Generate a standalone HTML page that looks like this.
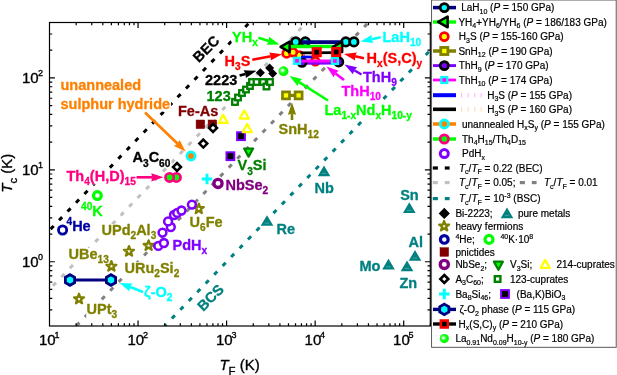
<!DOCTYPE html>
<html lang="en"><head><meta charset="utf-8"><title>Tc vs TF</title>
<style>html,body{margin:0;padding:0;background:#fff}svg{display:block}</style></head>
<body>
<svg width="617" height="375" viewBox="0 0 617 375" font-family="'Liberation Sans', Arial, sans-serif">
<defs><radialGradient id="gball" cx="0.40" cy="0.42" r="0.62"><stop offset="0" stop-color="#ffffff"/><stop offset="0.12" stop-color="#d8ffd8"/><stop offset="0.45" stop-color="#20ff20"/><stop offset="0.7" stop-color="#00ff00"/><stop offset="1" stop-color="#00f400"/></radialGradient>
<clipPath id="clip"><rect x="49.5" y="22.5" width="380.8" height="303.5"/></clipPath></defs>
<rect width="617" height="375" fill="#fff"/>
<g style="will-change:transform">
<g clip-path="url(#clip)">
<line x1="49.5" y1="230.25" x2="249.59" y2="22.5" stroke="#000000" stroke-width="3" stroke-dasharray="4.4 7.8" stroke-dashoffset="10.6"/>
<line x1="49.5" y1="289.41" x2="306.57" y2="22.5" stroke="#c0c0c0" stroke-width="3" stroke-dasharray="4.4 7.8" stroke-dashoffset="7.2"/>
<line x1="76.16" y1="325.99" x2="368.46" y2="22.5" stroke="#808080" stroke-width="3" stroke-dasharray="4.4 7.8" stroke-dashoffset="11.9"/>
<line x1="164.71" y1="325.99" x2="430.36" y2="50.17" stroke="#008080" stroke-width="3" stroke-dasharray="4.4 7.8" stroke-dashoffset="1.9"/>
</g>
<g clip-path="url(#clip)"><rect x="60.2" y="79.42" width="81.86" height="13.95" fill="#fff"/><rect x="60.2" y="97.62" width="110.86" height="13.95" fill="#fff"/><rect x="193.99" y="41.52" width="31.92" height="13.95" fill="#fff" transform="rotate(-45 209.6 52.4)"/><rect x="198.39" y="290.32" width="31.92" height="13.95" fill="#fff" transform="rotate(-45 214 301.2)"/><rect x="231.7" y="30.92" width="27.09" height="14.5" fill="#fff"/><rect x="224.2" y="54.92" width="27.09" height="14.5" fill="#fff"/><rect x="204.7" y="73.92" width="33.55" height="13.95" fill="#fff"/><rect x="206.2" y="89.92" width="25.49" height="13.95" fill="#fff"/><rect x="177.7" y="104.92" width="41.58" height="13.95" fill="#fff"/><rect x="132.2" y="151.43" width="39.18" height="14.5" fill="#fff"/><rect x="66.2" y="169.93" width="70.57" height="14.5" fill="#fff"/><rect x="80.7" y="204.2" width="23.06" height="14.67" fill="#fff"/><rect x="66.2" y="219.2" width="25.48" height="14.67" fill="#fff"/><rect x="101.2" y="223.93" width="56.09" height="14.5" fill="#fff"/><rect x="68.2" y="247.93" width="41.6" height="14.5" fill="#fff"/><rect x="124.2" y="261.93" width="56.09" height="14.5" fill="#fff"/><rect x="86.2" y="302.93" width="31.92" height="14.5" fill="#fff"/><rect x="143.7" y="285.93" width="29.73" height="14.5" fill="#fff"/><rect x="189.2" y="215.93" width="34.34" height="14.5" fill="#fff"/><rect x="172.2" y="238.93" width="35.94" height="14.5" fill="#fff"/><rect x="225.2" y="178.93" width="44.01" height="14.5" fill="#fff"/><rect x="237.2" y="159.43" width="30.32" height="14.5" fill="#fff"/><rect x="278.2" y="122.93" width="41.59" height="14.5" fill="#fff"/><rect x="324.2" y="103.92" width="88.64" height="14.5" fill="#fff"/><rect x="341.2" y="84.92" width="40.77" height="14.5" fill="#fff"/><rect x="362.7" y="70.92" width="35.13" height="14.5" fill="#fff"/><rect x="366.2" y="51.92" width="56.89" height="14.5" fill="#fff"/><rect x="382.2" y="30.92" width="39.98" height="14.5" fill="#fff"/><rect x="314.2" y="182.33" width="20.63" height="13.95" fill="#fff"/><rect x="276.2" y="222.93" width="19.84" height="13.95" fill="#fff"/><rect x="399.9" y="189.33" width="19.83" height="13.95" fill="#fff"/><rect x="408.2" y="235.93" width="15.8" height="13.95" fill="#fff"/><rect x="359.2" y="260.23" width="22.23" height="13.95" fill="#fff"/><rect x="399.2" y="276.93" width="19.01" height="13.95" fill="#fff"/></g>
<rect x="49.5" y="22.5" width="380.8" height="303.5" fill="none" stroke="#000" stroke-width="1.2"/>
<path d="M76.16 326.0v-2.8M76.16 22.5v2.8M91.75 326.0v-2.8M91.75 22.5v2.8M102.81 326.0v-2.8M102.81 22.5v2.8M111.39 326.0v-2.8M111.39 22.5v2.8M118.41 326.0v-2.8M118.41 22.5v2.8M124.33 326.0v-2.8M124.33 22.5v2.8M129.47 326.0v-2.8M129.47 22.5v2.8M134 326.0v-2.8M134 22.5v2.8M138.05 326.0v-5.4M138.05 22.5v5.4M164.71 326.0v-2.8M164.71 22.5v2.8M180.3 326.0v-2.8M180.3 22.5v2.8M191.36 326.0v-2.8M191.36 22.5v2.8M199.94 326.0v-2.8M199.94 22.5v2.8M206.96 326.0v-2.8M206.96 22.5v2.8M212.88 326.0v-2.8M212.88 22.5v2.8M218.02 326.0v-2.8M218.02 22.5v2.8M222.55 326.0v-2.8M222.55 22.5v2.8M226.6 326.0v-5.4M226.6 22.5v5.4M253.26 326.0v-2.8M253.26 22.5v2.8M268.85 326.0v-2.8M268.85 22.5v2.8M279.91 326.0v-2.8M279.91 22.5v2.8M288.49 326.0v-2.8M288.49 22.5v2.8M295.51 326.0v-2.8M295.51 22.5v2.8M301.43 326.0v-2.8M301.43 22.5v2.8M306.57 326.0v-2.8M306.57 22.5v2.8M311.1 326.0v-2.8M311.1 22.5v2.8M315.15 326.0v-5.4M315.15 22.5v5.4M341.81 326.0v-2.8M341.81 22.5v2.8M357.4 326.0v-2.8M357.4 22.5v2.8M368.46 326.0v-2.8M368.46 22.5v2.8M377.04 326.0v-2.8M377.04 22.5v2.8M384.06 326.0v-2.8M384.06 22.5v2.8M389.98 326.0v-2.8M389.98 22.5v2.8M395.12 326.0v-2.8M395.12 22.5v2.8M399.65 326.0v-2.8M399.65 22.5v2.8M403.7 326.0v-5.4M403.7 22.5v5.4M430.36 326.0v-2.8M430.36 22.5v2.8M49.5 309.8h2.8M430.3 309.8h-2.8M49.5 298.32h2.8M430.3 298.32h-2.8M49.5 289.41h2.8M430.3 289.41h-2.8M49.5 282.13h2.8M430.3 282.13h-2.8M49.5 275.97h2.8M430.3 275.97h-2.8M49.5 270.64h2.8M430.3 270.64h-2.8M49.5 265.94h2.8M430.3 265.94h-2.8M49.5 261.73h5.4M430.3 261.73h-5.4M49.5 234.05h2.8M430.3 234.05h-2.8M49.5 217.86h2.8M430.3 217.86h-2.8M49.5 206.38h2.8M430.3 206.38h-2.8M49.5 197.47h2.8M430.3 197.47h-2.8M49.5 190.19h2.8M430.3 190.19h-2.8M49.5 184.03h2.8M430.3 184.03h-2.8M49.5 178.7h2.8M430.3 178.7h-2.8M49.5 174h2.8M430.3 174h-2.8M49.5 169.79h5.4M430.3 169.79h-5.4M49.5 142.11h2.8M430.3 142.11h-2.8M49.5 125.92h2.8M430.3 125.92h-2.8M49.5 114.44h2.8M430.3 114.44h-2.8M49.5 105.53h2.8M430.3 105.53h-2.8M49.5 98.25h2.8M430.3 98.25h-2.8M49.5 92.09h2.8M430.3 92.09h-2.8M49.5 86.76h2.8M430.3 86.76h-2.8M49.5 82.06h2.8M430.3 82.06h-2.8M49.5 77.85h5.4M430.3 77.85h-5.4M49.5 50.17h2.8M430.3 50.17h-2.8M49.5 33.98h2.8M430.3 33.98h-2.8" stroke="#000" stroke-width="1.2" fill="none"/>
<text x="38.9" y="345.2" font-size="15" fill="#000" stroke="#000" stroke-width="0.35" stroke-linejoin="round">10<tspan font-size="9" dx="-1.2" dy="-6.75">1</tspan></text>
<text x="127.45" y="345.2" font-size="15" fill="#000" stroke="#000" stroke-width="0.35" stroke-linejoin="round">10<tspan font-size="9" dx="-1.2" dy="-6.75">2</tspan></text>
<text x="216" y="345.2" font-size="15" fill="#000" stroke="#000" stroke-width="0.35" stroke-linejoin="round">10<tspan font-size="9" dx="-1.2" dy="-6.75">3</tspan></text>
<text x="304.55" y="345.2" font-size="15" fill="#000" stroke="#000" stroke-width="0.35" stroke-linejoin="round">10<tspan font-size="9" dx="-1.2" dy="-6.75">4</tspan></text>
<text x="393.1" y="345.2" font-size="15" fill="#000" stroke="#000" stroke-width="0.35" stroke-linejoin="round">10<tspan font-size="9" dx="-1.2" dy="-6.75">5</tspan></text>
<text x="22" y="267.23" font-size="15" fill="#000" stroke="#000" stroke-width="0.35" stroke-linejoin="round">10<tspan font-size="9" dx="-0.7" dy="-6.9">0</tspan></text>
<text x="22" y="175.29" font-size="15" fill="#000" stroke="#000" stroke-width="0.35" stroke-linejoin="round">10<tspan font-size="9" dx="-0.7" dy="-6.9">1</tspan></text>
<text x="22" y="83.35" font-size="15" fill="#000" stroke="#000" stroke-width="0.35" stroke-linejoin="round">10<tspan font-size="9" dx="-0.7" dy="-6.9">2</tspan></text>
<text x="239.6" y="370" font-size="15" fill="#000" stroke="#000" stroke-width="0.35" stroke-linejoin="round" text-anchor="middle"><tspan font-style="italic">T</tspan><tspan font-size="11.4" dy="4.5">F</tspan><tspan dy="-4.5"> (K)</tspan></text>
<text x="12.3" y="173.2" font-size="15" fill="#000" stroke="#000" stroke-width="0.35" stroke-linejoin="round" text-anchor="middle" transform="rotate(-90 12.3 173.2)"><tspan font-style="italic">T</tspan><tspan font-size="11.4" dy="4.5">c</tspan><tspan dy="-4.5"> (K)</tspan></text>
<path d="M79 293.8L80.22 297.32L83.95 297.39L80.98 299.64L82.06 303.21L79 301.08L75.94 303.21L77.02 299.64L74.05 297.39L77.78 297.32Z" fill="#fff" stroke="#808000" stroke-width="2.3" stroke-linejoin="round"/>
<path d="M111.4 261.2L112.62 264.72L116.35 264.79L113.38 267.04L114.46 270.61L111.4 268.48L108.34 270.61L109.42 267.04L106.45 264.79L110.18 264.72Z" fill="#fff" stroke="#808000" stroke-width="2.3" stroke-linejoin="round"/>
<path d="M129 246.2L130.22 249.72L133.95 249.79L130.98 252.04L132.06 255.61L129 253.48L125.94 255.61L127.02 252.04L124.05 249.79L127.78 249.72Z" fill="#fff" stroke="#808000" stroke-width="2.3" stroke-linejoin="round"/>
<path d="M148.6 240.4L149.82 243.92L153.55 243.99L150.58 246.24L151.66 249.81L148.6 247.68L145.54 249.81L146.62 246.24L143.65 243.99L147.38 243.92Z" fill="#fff" stroke="#808000" stroke-width="2.3" stroke-linejoin="round"/>
<path d="M198.8 203.6L200.02 207.12L203.75 207.19L200.78 209.44L201.86 213.01L198.8 210.88L195.74 213.01L196.82 209.44L193.85 207.19L197.58 207.12Z" fill="#fff" stroke="#808000" stroke-width="2.3" stroke-linejoin="round"/>
<path d="M324 165.46L330.3 176.15L317.7 176.15Z" fill="#008080" stroke="#008080" stroke-width="0.01" stroke-linejoin="round"/>
<line x1="321.7" y1="173.4" x2="326.3" y2="173.4" stroke="#66b3b3" stroke-width="0.7"/>
<path d="M267 215.16L273.3 225.84L260.7 225.84Z" fill="#008080" stroke="#008080" stroke-width="0.01" stroke-linejoin="round"/>
<line x1="264.7" y1="223.1" x2="269.3" y2="223.1" stroke="#66b3b3" stroke-width="0.7"/>
<path d="M409.3 202.35L415.6 213.04L403 213.04Z" fill="#008080" stroke="#008080" stroke-width="0.01" stroke-linejoin="round"/>
<line x1="407" y1="210.3" x2="411.6" y2="210.3" stroke="#66b3b3" stroke-width="0.7"/>
<path d="M415 250.06L421.3 260.75L408.7 260.75Z" fill="#008080" stroke="#008080" stroke-width="0.01" stroke-linejoin="round"/>
<line x1="412.7" y1="258" x2="417.3" y2="258" stroke="#66b3b3" stroke-width="0.7"/>
<path d="M388.5 258.85L394.8 269.54L382.2 269.54Z" fill="#008080" stroke="#008080" stroke-width="0.01" stroke-linejoin="round"/>
<line x1="386.2" y1="266.8" x2="390.8" y2="266.8" stroke="#66b3b3" stroke-width="0.7"/>
<path d="M407 260.45L413.3 271.14L400.7 271.14Z" fill="#008080" stroke="#008080" stroke-width="0.01" stroke-linejoin="round"/>
<line x1="404.7" y1="268.4" x2="409.3" y2="268.4" stroke="#66b3b3" stroke-width="0.7"/>
<circle cx="62.6" cy="230" r="4.1" fill="#fff" stroke="#0000a0" stroke-width="2.8"/>
<circle cx="97.4" cy="195.6" r="3.9" fill="#fff" stroke="#00ff00" stroke-width="3.2"/>
<line x1="70" y1="280" x2="111" y2="280" stroke="#000080" stroke-width="3" />
<path d="M70 274.7L74.59 277.35L74.59 282.65L70 285.3L65.41 282.65L65.41 277.35Z" fill="#00ffff" stroke="#000080" stroke-width="2.8" stroke-linejoin="miter"/>
<path d="M111 274.7L115.59 277.35L115.59 282.65L111 285.3L106.41 282.65L106.41 277.35Z" fill="#00ffff" stroke="#000080" stroke-width="2.8" stroke-linejoin="miter"/>
<circle cx="176.4" cy="177.4" r="4.15" fill="#00ff00" stroke="#ff0080" stroke-width="2.7"/>
<circle cx="169.6" cy="177.4" r="4.15" fill="#00ff00" stroke="#ff0080" stroke-width="2.7"/>
<rect x="196.1" y="120" width="8.6" height="8.6" fill="#800000" stroke="#800000" stroke-width="0.5"/>
<rect x="208.1" y="120" width="8.6" height="8.6" fill="#800000" stroke="#800000" stroke-width="0.5"/>
<path d="M177 163L181 167L177 171L173 167Z" fill="#fff" stroke="#000000" stroke-width="2.5" stroke-linejoin="miter"/>
<path d="M203.3 139.6L207.3 143.6L203.3 147.6L199.3 143.6Z" fill="#fff" stroke="#000000" stroke-width="2.5" stroke-linejoin="miter"/>
<path d="M213 124L217 128L213 132L209 128Z" fill="#fff" stroke="#000000" stroke-width="2.5" stroke-linejoin="miter"/>
<circle cx="191" cy="156" r="4.1" fill="#ff8000" stroke="#00ffff" stroke-width="2.7"/>
<path d="M201.75 179H212.25M207 173.75V184.25" stroke="#00ffff" stroke-width="3" fill="none"/>
<circle cx="218" cy="183.4" r="4.1" fill="#fff" stroke="#800080" stroke-width="3.3"/>
<rect x="237.1" y="132.3" width="7.8" height="7.8" fill="#000000" stroke="#8000ff" stroke-width="2"/>
<rect x="226.5" y="152.3" width="7.8" height="7.8" fill="#000000" stroke="#8000ff" stroke-width="2"/>
<path d="M248.6 156.65L253.05 148.55L244.15 148.55Z" fill="#00ff00" stroke="#008000" stroke-width="2.3" stroke-linejoin="round"/>
<path d="M223.2 114.85L227.75 122.95L218.65 122.95Z" fill="#fff" stroke="#ffff00" stroke-width="2.3" stroke-linejoin="round"/>
<path d="M244.3 110.45L248.85 118.55L239.75 118.55Z" fill="#fff" stroke="#ffff00" stroke-width="2.3" stroke-linejoin="round"/>
<path d="M247.2 123.95L251.75 132.05L242.65 132.05Z" fill="#fff" stroke="#ffff00" stroke-width="2.3" stroke-linejoin="round"/>
<rect x="232.2" y="99.2" width="5.6" height="5.6" fill="#fff" stroke="#008000" stroke-width="2.3"/>
<rect x="235.2" y="94.7" width="5.6" height="5.6" fill="#fff" stroke="#008000" stroke-width="2.3"/>
<rect x="239.2" y="90.2" width="5.6" height="5.6" fill="#fff" stroke="#008000" stroke-width="2.3"/>
<rect x="243.2" y="86.7" width="5.6" height="5.6" fill="#fff" stroke="#008000" stroke-width="2.3"/>
<rect x="247.2" y="83.2" width="5.6" height="5.6" fill="#fff" stroke="#008000" stroke-width="2.3"/>
<rect x="249.2" y="79.2" width="5.6" height="5.6" fill="#fff" stroke="#008000" stroke-width="2.3"/>
<rect x="253.7" y="79.2" width="5.6" height="5.6" fill="#fff" stroke="#008000" stroke-width="2.3"/>
<rect x="260.2" y="79.2" width="5.6" height="5.6" fill="#fff" stroke="#008000" stroke-width="2.3"/>
<rect x="263.7" y="83.7" width="5.6" height="5.6" fill="#fff" stroke="#008000" stroke-width="2.3"/>
<rect x="267.2" y="79.2" width="5.6" height="5.6" fill="#fff" stroke="#008000" stroke-width="2.3"/>
<path d="M260.4 68.2L264.9 72.7L260.4 77.2L255.9 72.7Z" fill="#000000" stroke="#000000" stroke-width="0" stroke-linejoin="miter"/>
<path d="M269.6 63.6L274.1 68.1L269.6 72.6L265.1 68.1Z" fill="#000000" stroke="#000000" stroke-width="0" stroke-linejoin="miter"/>
<path d="M272.7 69L277.2 73.5L272.7 78L268.2 73.5Z" fill="#000000" stroke="#000000" stroke-width="0" stroke-linejoin="miter"/>
<circle cx="158.3" cy="245.9" r="3.9" fill="#fff" stroke="#8000ff" stroke-width="2.55"/>
<circle cx="163.9" cy="243" r="3.9" fill="#fff" stroke="#8000ff" stroke-width="2.55"/>
<circle cx="162.5" cy="232.6" r="3.9" fill="#fff" stroke="#8000ff" stroke-width="2.55"/>
<circle cx="170.8" cy="227" r="3.9" fill="#fff" stroke="#8000ff" stroke-width="2.55"/>
<circle cx="168.1" cy="221.4" r="3.9" fill="#fff" stroke="#8000ff" stroke-width="2.55"/>
<circle cx="174" cy="215" r="3.9" fill="#fff" stroke="#8000ff" stroke-width="2.55"/>
<circle cx="177.2" cy="212.9" r="3.9" fill="#fff" stroke="#8000ff" stroke-width="2.55"/>
<circle cx="181.5" cy="210.5" r="3.9" fill="#fff" stroke="#8000ff" stroke-width="2.55"/>
<circle cx="191.9" cy="204.6" r="3.9" fill="#fff" stroke="#8000ff" stroke-width="2.55"/>
<line x1="286" y1="95.4" x2="298.6" y2="95.4" stroke="#808000" stroke-width="3.2" />
<rect x="282.5" y="91.9" width="7" height="7" fill="#ffff00" stroke="#808000" stroke-width="2.7"/>
<rect x="295.1" y="91.9" width="7" height="7" fill="#ffff00" stroke="#808000" stroke-width="2.7"/>
<circle cx="283.5" cy="71.2" r="4.9" fill="url(#gball)"/>
<circle cx="305.3" cy="41.8" r="4.2" fill="#00ffff" stroke="#000000" stroke-width="2.7"/>
<line x1="302" y1="42.1" x2="341" y2="42.1" stroke="#000080" stroke-width="3.6" />
<circle cx="295.7" cy="41.9" r="4.2" fill="#00ffff" stroke="#000000" stroke-width="2.7"/>
<circle cx="345.8" cy="41.9" r="4.2" fill="#00ffff" stroke="#000000" stroke-width="2.7"/>
<circle cx="353.9" cy="41.9" r="4.2" fill="#00ffff" stroke="#000000" stroke-width="2.7"/>
<circle cx="286.6" cy="53.4" r="3.9" fill="#ffff00" stroke="#ff0000" stroke-width="2.7"/>
<circle cx="299.4" cy="55.4" r="3.9" fill="#ffff00" stroke="#ff0000" stroke-width="2.7"/>
<circle cx="315.3" cy="61.3" r="3.9" fill="#ffff00" stroke="#ff0000" stroke-width="2.7"/>
<circle cx="293" cy="52.2" r="3.9" fill="#ffff00" stroke="#ff0000" stroke-width="2.7"/>
<line x1="289" y1="46.6" x2="335" y2="46.6" stroke="#00ff00" stroke-width="3.5" />
<path d="M280.55 46.8L289.65 41.55L289.65 52.05Z" fill="#00ff00" stroke="#000000" stroke-width="2.5" stroke-linejoin="round"/>
<path d="M333.05 46.8L342.15 41.55L342.15 52.05Z" fill="#00ff00" stroke="#000000" stroke-width="2.5" stroke-linejoin="round"/>
<line x1="302" y1="63.2" x2="338.7" y2="63" stroke="#8000ff" stroke-width="3" />
<circle cx="302" cy="62.3" r="4.2" fill="#8000ff" stroke="#000000" stroke-width="2.7"/>
<circle cx="338.7" cy="61.9" r="4.2" fill="#8000ff" stroke="#000000" stroke-width="2.7"/>
<line x1="301" y1="57" x2="312.5" y2="57" stroke="#0000ff" stroke-width="2.8" />
<line x1="303.5" y1="52" x2="303.5" y2="55.5" stroke="#ffc890" stroke-width="0.8" />
<line x1="309.8" y1="52" x2="309.8" y2="55.5" stroke="#ffc890" stroke-width="0.8" />
<line x1="297" y1="60.9" x2="335" y2="60.9" stroke="#ff00ff" stroke-width="3" />
<rect x="294.05" y="57.85" width="5.9" height="5.9" fill="#ff00ff" stroke="#00ffff" stroke-width="2.3"/>
<rect x="331.95" y="58.05" width="5.9" height="5.9" fill="#ff00ff" stroke="#00ffff" stroke-width="2.3"/>
<line x1="300.5" y1="52.9" x2="336" y2="52.6" stroke="#000000" stroke-width="2.8" />
<rect x="313" y="48.5" width="7.4" height="7.4" fill="#000000" stroke="#ff0000" stroke-width="2.7"/>
<rect x="332.5" y="48.3" width="7.4" height="7.4" fill="#000000" stroke="#ff0000" stroke-width="2.7"/>
<line x1="145" y1="112.5" x2="177.41" y2="143.55" stroke="#ff8000" stroke-width="2.6"/>
<path d="M185.6 151.4L173.95 145.92L177.41 143.55L179.63 140Z" fill="#ff8000"/>
<line x1="136.5" y1="177.3" x2="152.15" y2="177.3" stroke="#ff0080" stroke-width="2.6"/>
<path d="M163.5 177.3L151.3 181.4L152.15 177.3L151.3 173.2Z" fill="#ff0080"/>
<line x1="143" y1="292" x2="130.1" y2="287.06" stroke="#00ffff" stroke-width="2.6"/>
<path d="M119.5 283L132.36 283.53L130.1 287.06L129.43 291.19Z" fill="#00ffff"/>
<line x1="258.3" y1="37.7" x2="268.7" y2="41.03" stroke="#00ff00" stroke-width="2.6"/>
<path d="M279.5 44.5L266.63 44.68L268.7 41.03L269.14 36.87Z" fill="#00ff00"/>
<line x1="252.3" y1="59.7" x2="270.84" y2="56.33" stroke="#ff0000" stroke-width="2.6"/>
<path d="M282 54.3L270.73 60.52L270.84 56.33L269.26 52.45Z" fill="#ff0000"/>
<line x1="239.6" y1="75.6" x2="245.59" y2="73.9" stroke="#000000" stroke-width="2.6"/>
<path d="M256.5 70.8L245.88 78.08L245.59 73.9L243.64 70.19Z" fill="#000000"/>
<line x1="292" y1="120" x2="292" y2="113.85" stroke="#808000" stroke-width="2.6"/>
<path d="M292 102.5L296.1 114.7L292 113.85L287.9 114.7Z" fill="#808000"/>
<line x1="328" y1="100.5" x2="299.07" y2="82.09" stroke="#00ff00" stroke-width="2.6"/>
<path d="M289.5 76L301.99 79.09L299.07 82.09L297.59 86.01Z" fill="#00ff00"/>
<line x1="380.7" y1="37.3" x2="371.61" y2="39.19" stroke="#00ffff" stroke-width="2.6"/>
<path d="M360.5 41.5L371.61 35L371.61 39.19L373.28 43.03Z" fill="#00ffff"/>
<line x1="364" y1="58.2" x2="355.1" y2="56.33" stroke="#ff0000" stroke-width="2.6"/>
<path d="M344 54L356.78 52.49L355.1 56.33L355.1 60.52Z" fill="#ff0000"/>
<line x1="361.5" y1="74.5" x2="354.28" y2="70.25" stroke="#8000ff" stroke-width="2.6"/>
<path d="M344.5 64.5L357.09 67.15L354.28 70.25L352.94 74.22Z" fill="#8000ff"/>
<line x1="344" y1="80" x2="335.48" y2="73.43" stroke="#ff00ff" stroke-width="2.6"/>
<path d="M326.5 66.5L338.66 70.71L335.48 73.43L333.66 77.2Z" fill="#ff00ff"/>
<text x="60.5" y="90.3" font-size="14.5" fill="#ff8000" stroke="#ff8000" stroke-width="0.3" stroke-linejoin="round" font-weight="bold">unannealed</text>
<text x="60.5" y="108.5" font-size="14.5" fill="#ff8000" stroke="#ff8000" stroke-width="0.3" stroke-linejoin="round" font-weight="bold">sulphur hydride</text>
<text x="209.6" y="52.4" font-size="14.5" fill="#000000" stroke="#000000" stroke-width="0.3" stroke-linejoin="round" font-weight="bold" text-anchor="middle" transform="rotate(-45 209.6 52.4)">BEC</text>
<text x="214" y="301.2" font-size="14.5" fill="#008080" stroke="#008080" stroke-width="0.3" stroke-linejoin="round" font-weight="bold" text-anchor="middle" transform="rotate(-45 214 301.2)">BCS</text>
<text x="232" y="41.8" font-size="14.5" fill="#00ff00" stroke="#00ff00" stroke-width="0.3" stroke-linejoin="round" font-weight="bold">YH<tspan font-size="10.15" dy="4.21">x</tspan></text>
<text x="224.5" y="65.8" font-size="14.5" fill="#ff0000" stroke="#ff0000" stroke-width="0.3" stroke-linejoin="round" font-weight="bold">H<tspan font-size="10.15" dy="4.21">3</tspan><tspan dy="-4.21">S</tspan></text>
<text x="205" y="84.8" font-size="14.5" fill="#000000" stroke="#000000" stroke-width="0.3" stroke-linejoin="round" font-weight="bold">2223</text>
<text x="206.5" y="100.8" font-size="14.5" fill="#008000" stroke="#008000" stroke-width="0.3" stroke-linejoin="round" font-weight="bold">123</text>
<text x="178" y="115.8" font-size="14.5" fill="#800000" stroke="#800000" stroke-width="0.3" stroke-linejoin="round" font-weight="bold">Fe-As</text>
<text x="132.5" y="162.3" font-size="14.5" fill="#000000" stroke="#000000" stroke-width="0.3" stroke-linejoin="round" font-weight="bold">A<tspan font-size="10.15" dy="4.21">3</tspan><tspan dy="-4.21">C</tspan><tspan font-size="10.15" dy="4.21">60</tspan></text>
<text x="66.5" y="180.8" font-size="14.5" fill="#ff0080" stroke="#ff0080" stroke-width="0.3" stroke-linejoin="round" font-weight="bold">Th<tspan font-size="10.15" dy="4.21">4</tspan><tspan dy="-4.21">(H,D)</tspan><tspan font-size="10.15" dy="4.21">15</tspan></text>
<text x="81" y="215.8" font-size="14.5" fill="#00ff00" stroke="#00ff00" stroke-width="0.3" stroke-linejoin="round" font-weight="bold"><tspan font-size="10.15" dy="-5.8">40</tspan><tspan dy="5.8">K</tspan></text>
<text x="66.5" y="230.8" font-size="14.5" fill="#0000a0" stroke="#0000a0" stroke-width="0.3" stroke-linejoin="round" font-weight="bold"><tspan font-size="10.15" dy="-5.8">4</tspan><tspan dy="5.8">He</tspan></text>
<text x="101.5" y="234.8" font-size="14.5" fill="#808000" stroke="#808000" stroke-width="0.3" stroke-linejoin="round" font-weight="bold">UPd<tspan font-size="10.15" dy="4.21">2</tspan><tspan dy="-4.21">Al</tspan><tspan font-size="10.15" dy="4.21">3</tspan></text>
<text x="68.5" y="258.8" font-size="14.5" fill="#808000" stroke="#808000" stroke-width="0.3" stroke-linejoin="round" font-weight="bold">UBe<tspan font-size="10.15" dy="4.21">13</tspan></text>
<text x="124.5" y="272.8" font-size="14.5" fill="#808000" stroke="#808000" stroke-width="0.3" stroke-linejoin="round" font-weight="bold">URu<tspan font-size="10.15" dy="4.21">2</tspan><tspan dy="-4.21">Si</tspan><tspan font-size="10.15" dy="4.21">2</tspan></text>
<text x="86.5" y="313.8" font-size="14.5" fill="#808000" stroke="#808000" stroke-width="0.3" stroke-linejoin="round" font-weight="bold">UPt<tspan font-size="10.15" dy="4.21">3</tspan></text>
<text x="144" y="296.8" font-size="14.5" fill="#00ffff" stroke="#00ffff" stroke-width="0.3" stroke-linejoin="round" font-weight="bold">ζ-O<tspan font-size="10.15" dy="4.21">2</tspan></text>
<text x="189.5" y="226.8" font-size="14.5" fill="#808000" stroke="#808000" stroke-width="0.3" stroke-linejoin="round" font-weight="bold">U<tspan font-size="10.15" dy="4.21">6</tspan><tspan dy="-4.21">Fe</tspan></text>
<text x="172.5" y="249.8" font-size="14.5" fill="#8000ff" stroke="#8000ff" stroke-width="0.3" stroke-linejoin="round" font-weight="bold">PdH<tspan font-size="10.15" dy="4.21">x</tspan></text>
<text x="225.5" y="189.8" font-size="14.5" fill="#800080" stroke="#800080" stroke-width="0.3" stroke-linejoin="round" font-weight="bold">NbSe<tspan font-size="10.15" dy="4.21">2</tspan></text>
<text x="237.5" y="170.3" font-size="14.5" fill="#008000" stroke="#008000" stroke-width="0.3" stroke-linejoin="round" font-weight="bold">V<tspan font-size="10.15" dy="4.21">3</tspan><tspan dy="-4.21">Si</tspan></text>
<text x="278.5" y="133.8" font-size="14.5" fill="#808000" stroke="#808000" stroke-width="0.3" stroke-linejoin="round" font-weight="bold">SnH<tspan font-size="10.15" dy="4.21">12</tspan></text>
<text x="324.5" y="114.8" font-size="14.5" fill="#00ff00" stroke="#00ff00" stroke-width="0.3" stroke-linejoin="round" font-weight="bold">La<tspan font-size="10.15" dy="4.21">1-x</tspan><tspan dy="-4.21">Nd</tspan><tspan font-size="10.15" dy="4.21">x</tspan><tspan dy="-4.21">H</tspan><tspan font-size="10.15" dy="4.21">10-y</tspan></text>
<text x="341.5" y="95.8" font-size="14.5" fill="#ff00ff" stroke="#ff00ff" stroke-width="0.3" stroke-linejoin="round" font-weight="bold">ThH<tspan font-size="10.15" dy="4.21">10</tspan></text>
<text x="363" y="81.8" font-size="14.5" fill="#8000ff" stroke="#8000ff" stroke-width="0.3" stroke-linejoin="round" font-weight="bold">ThH<tspan font-size="10.15" dy="4.21">9</tspan></text>
<text x="366.5" y="62.8" font-size="14.5" fill="#ff0000" stroke="#ff0000" stroke-width="0.3" stroke-linejoin="round" font-weight="bold">H<tspan font-size="10.15" dy="4.21">x</tspan><tspan dy="-4.21">(S,C)</tspan><tspan font-size="10.15" dy="4.21">y</tspan></text>
<text x="382.5" y="41.8" font-size="14.5" fill="#00ffff" stroke="#00ffff" stroke-width="0.3" stroke-linejoin="round" font-weight="bold">LaH<tspan font-size="10.15" dy="4.21">10</tspan></text>
<text x="314.5" y="193.2" font-size="14.5" fill="#008080" stroke="#008080" stroke-width="0.3" stroke-linejoin="round" font-weight="bold">Nb</text>
<text x="276.5" y="233.8" font-size="14.5" fill="#008080" stroke="#008080" stroke-width="0.3" stroke-linejoin="round" font-weight="bold">Re</text>
<text x="400.2" y="200.2" font-size="14.5" fill="#008080" stroke="#008080" stroke-width="0.3" stroke-linejoin="round" font-weight="bold">Sn</text>
<text x="408.5" y="246.8" font-size="14.5" fill="#008080" stroke="#008080" stroke-width="0.3" stroke-linejoin="round" font-weight="bold">Al</text>
<text x="359.5" y="271.1" font-size="14.5" fill="#008080" stroke="#008080" stroke-width="0.3" stroke-linejoin="round" font-weight="bold">Mo</text>
<text x="399.5" y="287.8" font-size="14.5" fill="#008080" stroke="#008080" stroke-width="0.3" stroke-linejoin="round" font-weight="bold">Zn</text>
<rect x="431.6" y="0.0" width="184.6" height="347.3" fill="#fff" stroke="#484848" stroke-width="0.9"/>
<line x1="433" y1="7.6" x2="456" y2="7.6" stroke="#000080" stroke-width="3.5" />
<circle cx="444.3" cy="7.6" r="4.05" fill="#00ffff" stroke="#000000" stroke-width="2.7"/>
<text x="461.2" y="11.2" font-size="10" fill="#000" stroke="#000" stroke-width="0.2" stroke-linejoin="round">LaH<tspan font-size="7" dy="2.6">10</tspan><tspan dy="-2.6"> (</tspan><tspan font-style="italic">P</tspan> = 150 GPa)</text>
<line x1="433" y1="22" x2="456" y2="22" stroke="#00ff00" stroke-width="3.4" />
<path d="M438.15 21.9L447.65 16.5L447.65 27.3Z" fill="#00ff00" stroke="#000000" stroke-width="2.5" stroke-linejoin="round"/>
<text x="458.4" y="25.6" font-size="10" fill="#000" stroke="#000" stroke-width="0.2" stroke-linejoin="round">YH<tspan font-size="7" dy="2.6">4</tspan><tspan dy="-2.6">+YH</tspan><tspan font-size="7" dy="2.6">6</tspan><tspan dy="-2.6">/YH</tspan><tspan font-size="7" dy="2.6">6</tspan><tspan dy="-2.6"> (</tspan><tspan font-style="italic">P</tspan> = 186/183 GPa)</text>
<circle cx="444.3" cy="36.6" r="4" fill="#ffff00" stroke="#ff0000" stroke-width="2.7"/>
<text x="458.8" y="40.2" font-size="10" fill="#000" stroke="#000" stroke-width="0.2" stroke-linejoin="round">H<tspan font-size="7" dy="2.6">3</tspan><tspan dy="-2.6">S</tspan> (<tspan font-style="italic">P</tspan> = 155-160 GPa)</text>
<line x1="433" y1="51" x2="456" y2="51" stroke="#808000" stroke-width="3.5" />
<rect x="440.75" y="47.45" width="7.1" height="7.1" fill="#ffff00" stroke="#808000" stroke-width="2.8"/>
<text x="458.4" y="54.6" font-size="10" fill="#000" stroke="#000" stroke-width="0.2" stroke-linejoin="round">SnH<tspan font-size="7" dy="2.6">12</tspan><tspan dy="-2.6"> (</tspan><tspan font-style="italic">P</tspan> = 190 GPa)</text>
<line x1="433" y1="65.6" x2="456" y2="65.6" stroke="#8000ff" stroke-width="2.9" />
<circle cx="444.3" cy="65.6" r="4.05" fill="#8000ff" stroke="#000000" stroke-width="2.7"/>
<text x="458.8" y="69.2" font-size="10" fill="#000" stroke="#000" stroke-width="0.2" stroke-linejoin="round">ThH<tspan font-size="7" dy="2.6">9</tspan><tspan dy="-2.6"> (</tspan><tspan font-style="italic">P</tspan> = 170 GPa)</text>
<line x1="433" y1="80" x2="456" y2="80" stroke="#ff00ff" stroke-width="2.8" />
<rect x="441.35" y="77.05" width="5.9" height="5.9" fill="#ff00ff" stroke="#00ffff" stroke-width="2.3"/>
<text x="458.8" y="83.6" font-size="10" fill="#000" stroke="#000" stroke-width="0.2" stroke-linejoin="round">ThH<tspan font-size="7" dy="2.6">10</tspan><tspan dy="-2.6"> (</tspan><tspan font-style="italic">P</tspan> = 174 GPa)</text>
<line x1="433" y1="95.2" x2="456" y2="95.2" stroke="#0000ff" stroke-width="4" />
<line x1="461.6" y1="93" x2="461.6" y2="97.6" stroke="#ffb0ff" stroke-width="1" />
<line x1="468.2" y1="93" x2="468.2" y2="97.6" stroke="#ffb0ff" stroke-width="1" />
<line x1="474.8" y1="93" x2="474.8" y2="97.6" stroke="#ffb0ff" stroke-width="1" />
<line x1="481.2" y1="93" x2="481.2" y2="97.6" stroke="#ffb0ff" stroke-width="1" />
<text x="487.2" y="98.8" font-size="10" fill="#000" stroke="#000" stroke-width="0.2" stroke-linejoin="round">H<tspan font-size="7" dy="2.6">3</tspan><tspan dy="-2.6">S</tspan> (<tspan font-style="italic">P</tspan> = 155 GPa)</text>
<line x1="433" y1="109.3" x2="456" y2="109.3" stroke="#000000" stroke-width="3.6" />
<line x1="461.6" y1="107.1" x2="461.6" y2="111.7" stroke="#ffd9b0" stroke-width="1" />
<line x1="468.2" y1="107.1" x2="468.2" y2="111.7" stroke="#ffd9b0" stroke-width="1" />
<line x1="474.8" y1="107.1" x2="474.8" y2="111.7" stroke="#ffd9b0" stroke-width="1" />
<line x1="481.2" y1="107.1" x2="481.2" y2="111.7" stroke="#ffd9b0" stroke-width="1" />
<text x="487.2" y="112.9" font-size="10" fill="#000" stroke="#000" stroke-width="0.2" stroke-linejoin="round">H<tspan font-size="7" dy="2.6">3</tspan><tspan dy="-2.6">S</tspan> (<tspan font-style="italic">P</tspan> = 160 GPa)</text>
<line x1="433" y1="124" x2="456" y2="124" stroke="#ff8000" stroke-width="3.5" />
<circle cx="444.3" cy="124" r="4.1" fill="#ff8000" stroke="#00ffff" stroke-width="2.7"/>
<text x="462" y="127.6" font-size="10" fill="#000" stroke="#000" stroke-width="0.2" stroke-linejoin="round">unannealed H<tspan font-size="7" dy="2.6">x</tspan><tspan dy="-2.6">S</tspan><tspan font-size="7" dy="2.6">y</tspan><tspan dy="-2.6"> (</tspan><tspan font-style="italic">P</tspan> = 155 GPa)</text>
<line x1="433" y1="139" x2="456" y2="139" stroke="#00ff00" stroke-width="3.5" />
<circle cx="444.3" cy="139" r="4.15" fill="#00ff00" stroke="#ff0080" stroke-width="2.7"/>
<text x="462" y="142.6" font-size="10" fill="#000" stroke="#000" stroke-width="0.2" stroke-linejoin="round">Th<tspan font-size="7" dy="2.6">4</tspan><tspan dy="-2.6">H</tspan><tspan font-size="7" dy="2.6">15</tspan><tspan dy="-2.6">/Th</tspan><tspan font-size="7" dy="2.6">4</tspan><tspan dy="-2.6">D</tspan><tspan font-size="7" dy="2.6">15</tspan></text>
<circle cx="444.3" cy="153.6" r="4" fill="#fff" stroke="#8000ff" stroke-width="3"/>
<text x="462" y="157.2" font-size="10" fill="#000" stroke="#000" stroke-width="0.2" stroke-linejoin="round">PdH<tspan font-size="7" dy="2.6">x</tspan></text>
<line x1="432.8" y1="168" x2="437.9" y2="168" stroke="#000000" stroke-width="3.2" />
<line x1="444.8" y1="168" x2="449.6" y2="168" stroke="#000000" stroke-width="3.2" />
<text x="459" y="171.6" font-size="10" fill="#000" stroke="#000" stroke-width="0.2" stroke-linejoin="round"><tspan font-style="italic">T</tspan><tspan font-size="7" dy="2.6">c</tspan><tspan dy="-2.6">/</tspan><tspan font-style="italic">T</tspan><tspan font-size="7" dy="2.6">F</tspan><tspan dy="-2.6"> = 0.22 (BEC)</tspan></text>
<line x1="432.8" y1="182.6" x2="437.9" y2="182.6" stroke="#c0c0c0" stroke-width="3.2" />
<line x1="444.8" y1="182.6" x2="449.6" y2="182.6" stroke="#c0c0c0" stroke-width="3.2" />
<text x="459" y="186.2" font-size="10" fill="#000" stroke="#000" stroke-width="0.2" stroke-linejoin="round"><tspan font-style="italic">T</tspan><tspan font-size="7" dy="2.6">c</tspan><tspan dy="-2.6">/</tspan><tspan font-style="italic">T</tspan><tspan font-size="7" dy="2.6">F</tspan><tspan dy="-2.6"> = 0.05;</tspan></text>
<line x1="519.8" y1="182.6" x2="524.9" y2="182.6" stroke="#808080" stroke-width="3.2" />
<line x1="531.8" y1="182.6" x2="536.6" y2="182.6" stroke="#808080" stroke-width="3.2" />
<text x="544" y="186.2" font-size="10" fill="#000" stroke="#000" stroke-width="0.2" stroke-linejoin="round"><tspan font-style="italic">T</tspan><tspan font-size="7" dy="2.6">c</tspan><tspan dy="-2.6">/</tspan><tspan font-style="italic">T</tspan><tspan font-size="7" dy="2.6">F</tspan><tspan dy="-2.6"> = 0.01</tspan></text>
<line x1="432.8" y1="198.6" x2="437.9" y2="198.6" stroke="#008080" stroke-width="3.2" />
<line x1="444.8" y1="198.6" x2="449.6" y2="198.6" stroke="#008080" stroke-width="3.2" />
<text x="459" y="202.2" font-size="10" fill="#000" stroke="#000" stroke-width="0.2" stroke-linejoin="round"><tspan font-style="italic">T</tspan><tspan font-size="7" dy="2.6">c</tspan><tspan dy="-2.6">/</tspan><tspan font-style="italic">T</tspan><tspan font-size="7" dy="2.6">F</tspan><tspan dy="-2.6"> = 10</tspan><tspan font-size="7" dy="-4">-3</tspan><tspan dy="4"> (BSC)</tspan></text>
<path d="M444.3 207.8L449.9 213.4L444.3 219L438.7 213.4Z" fill="#000000" stroke="#000000" stroke-width="0" stroke-linejoin="miter"/>
<text x="455.4" y="217" font-size="10" fill="#000" stroke="#000" stroke-width="0.2" stroke-linejoin="round">Bi-2223;</text>
<path d="M507 207.46L513.29 218.15L500.7 218.15Z" fill="#008080" stroke="#008080" stroke-width="0.01" stroke-linejoin="round"/>
<line x1="504.7" y1="215.4" x2="509.3" y2="215.4" stroke="#66b3b3" stroke-width="0.7"/>
<text x="518" y="217" font-size="10" fill="#000" stroke="#000" stroke-width="0.2" stroke-linejoin="round">pure metals</text>
<path d="M444.1 221L445.32 224.52L449.05 224.59L446.08 226.84L447.16 230.41L444.1 228.28L441.04 230.41L442.12 226.84L439.15 224.59L442.88 224.52Z" fill="#fff" stroke="#808000" stroke-width="2.3" stroke-linejoin="round"/>
<text x="455.4" y="229.8" font-size="10" fill="#000" stroke="#000" stroke-width="0.2" stroke-linejoin="round">heavy fermions</text>
<circle cx="444.3" cy="239.4" r="3.85" fill="#fff" stroke="#0000a0" stroke-width="3.2"/>
<text x="455.4" y="242.6" font-size="10" fill="#000" stroke="#000" stroke-width="0.2" stroke-linejoin="round"><tspan font-size="7" dy="-4">4</tspan><tspan dy="4">He;</tspan></text>
<circle cx="489" cy="239.4" r="4" fill="#fff" stroke="#00ff00" stroke-width="3.2"/>
<text x="500.4" y="242.6" font-size="10" fill="#000" stroke="#000" stroke-width="0.2" stroke-linejoin="round"><tspan font-size="7" dy="-4">40</tspan><tspan dy="4">K·10</tspan><tspan font-size="7" dy="-4">8</tspan></text>
<rect x="440" y="247.7" width="8.6" height="8.6" fill="#800000" stroke="#800000" stroke-width="0.5"/>
<text x="455.4" y="255.6" font-size="10" fill="#000" stroke="#000" stroke-width="0.2" stroke-linejoin="round">pnictides</text>
<circle cx="444.3" cy="264.4" r="4.1" fill="#fff" stroke="#800080" stroke-width="3.3"/>
<text x="455.4" y="268" font-size="10" fill="#000" stroke="#000" stroke-width="0.2" stroke-linejoin="round">NbSe<tspan font-size="7" dy="2.6">2</tspan><tspan dy="-2.6">;</tspan></text>
<path d="M498.4 269.75L502.85 261.65L493.95 261.65Z" fill="#00ff00" stroke="#008000" stroke-width="2.3" stroke-linejoin="round"/>
<text x="510" y="268" font-size="10" fill="#000" stroke="#000" stroke-width="0.2" stroke-linejoin="round">V<tspan font-size="7" dy="2.6">3</tspan><tspan dy="-2.6">Si;</tspan></text>
<path d="M545.2 259.85L549.75 267.95L540.65 267.95Z" fill="#fff" stroke="#ffff00" stroke-width="2.3" stroke-linejoin="round"/>
<text x="556.5" y="268" font-size="10" fill="#000" stroke="#000" stroke-width="0.2" stroke-linejoin="round">214-cuprates</text>
<path d="M444.3 275L448.3 279L444.3 283L440.3 279Z" fill="#fff" stroke="#000000" stroke-width="2.6" stroke-linejoin="miter"/>
<text x="455.4" y="282.6" font-size="10" fill="#000" stroke="#000" stroke-width="0.2" stroke-linejoin="round">A<tspan font-size="7" dy="2.6">3</tspan><tspan dy="-2.6">C</tspan><tspan font-size="7" dy="2.6">60</tspan><tspan dy="-2.6">;</tspan></text>
<rect x="494.8" y="276.2" width="5.6" height="5.6" fill="#fff" stroke="#008000" stroke-width="2.4"/>
<text x="510" y="282.6" font-size="10" fill="#000" stroke="#000" stroke-width="0.2" stroke-linejoin="round">123-cuprates</text>
<path d="M439.05 294H449.55M444.3 288.75V299.25" stroke="#00ffff" stroke-width="3" fill="none"/>
<text x="455.4" y="297.6" font-size="10" fill="#000" stroke="#000" stroke-width="0.2" stroke-linejoin="round">Ba<tspan font-size="7" dy="2.6">8</tspan><tspan dy="-2.6">Si</tspan><tspan font-size="7" dy="2.6">46</tspan><tspan dy="-2.6">;</tspan></text>
<rect x="501.1" y="290.1" width="7.8" height="7.8" fill="#000000" stroke="#8000ff" stroke-width="2"/>
<text x="516.6" y="297.6" font-size="10" fill="#000" stroke="#000" stroke-width="0.2" stroke-linejoin="round">(Ba,K)BiO<tspan font-size="7" dy="2.6">3</tspan></text>
<line x1="433" y1="309.4" x2="456" y2="309.4" stroke="#000080" stroke-width="3.4" />
<path d="M444.3 304.1L448.89 306.75L448.89 312.05L444.3 314.7L439.71 312.05L439.71 306.75Z" fill="#00ffff" stroke="#000080" stroke-width="2.8" stroke-linejoin="miter"/>
<text x="459.4" y="313" font-size="10" fill="#000" stroke="#000" stroke-width="0.2" stroke-linejoin="round">ζ-O<tspan font-size="7" dy="2.6">2</tspan><tspan dy="-2.6"> phase</tspan> (<tspan font-style="italic">P</tspan> = 115 GPa)</text>
<line x1="433" y1="324" x2="456" y2="324" stroke="#000000" stroke-width="3.4" />
<rect x="440.8" y="320.5" width="7" height="7" fill="#000000" stroke="#ff0000" stroke-width="2.5"/>
<text x="458.6" y="327.6" font-size="10" fill="#000" stroke="#000" stroke-width="0.2" stroke-linejoin="round">H<tspan font-size="7" dy="2.6">x</tspan><tspan dy="-2.6">(S,C)</tspan><tspan font-size="7" dy="2.6">y</tspan><tspan dy="-2.6"> (</tspan><tspan font-style="italic">P</tspan> = 210 GPa)</text>
<circle cx="444.3" cy="338.6" r="4.6" fill="url(#gball)"/>
<text x="455.4" y="342.2" font-size="10" fill="#000" stroke="#000" stroke-width="0.2" stroke-linejoin="round">La<tspan font-size="7" dy="2.6">0.91</tspan><tspan dy="-2.6">Nd</tspan><tspan font-size="7" dy="2.6">0.09</tspan><tspan dy="-2.6">H</tspan><tspan font-size="7" dy="2.6">10-y</tspan><tspan dy="-2.6"> (</tspan><tspan font-style="italic">P</tspan> = 180 GPa)</text>
</g>
</svg>
</body></html>
